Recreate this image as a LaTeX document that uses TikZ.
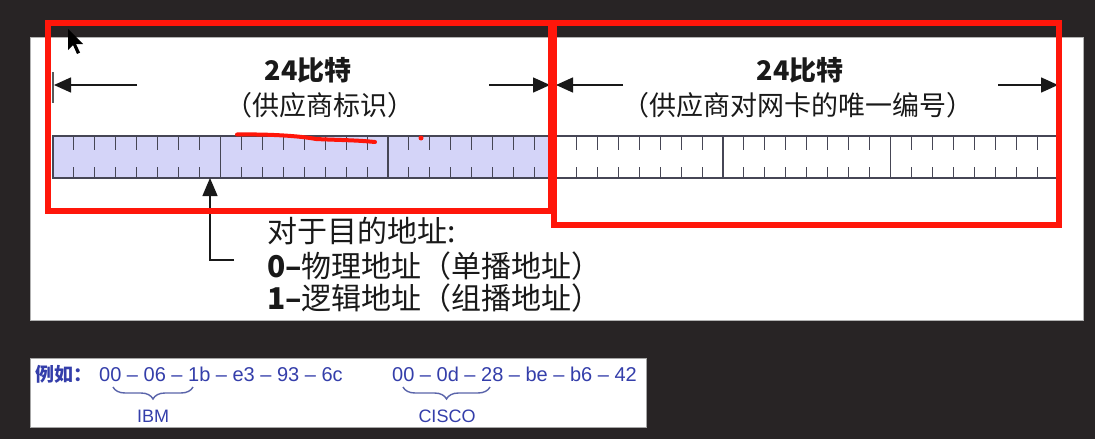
\documentclass[tikz,border=0pt]{standalone}
\usepackage{fontspec}
\setmainfont{Liberation Sans}
\newfontfamily\cjk{Noto Sans CJK SC}
\usetikzlibrary{arrows.meta,decorations.pathreplacing}
\definecolor{bgdark}{RGB}{40,36,37}
\definecolor{lav}{RGB}{212,212,248}
\definecolor{barc}{RGB}{70,70,85}
\definecolor{txt}{RGB}{25,25,25}
\definecolor{exblue}{RGB}{52,62,170}
\definecolor{bracec}{RGB}{90,100,170}
\definecolor{redmk}{RGB}{255,22,10}
\tikzset{
  redbox/.style={draw=redmk, line width=6pt},
  dimarrow/.style={draw=txt, line width=1.5pt, -{Triangle[length=17pt,width=15pt]}},
  upar/.style={draw=txt, line width=1.3pt, -{Triangle[length=18pt,width=15pt]}},
  bigt/.style={font=\cjk\bfseries\fontsize{27}{27}\selectfont, text=txt},
  subt/.style={font=\cjk\fontsize{27}{27}\selectfont, text=txt},
  lowt/.style={font=\cjk\fontsize{30}{30}\selectfont, text=txt, anchor=west, inner sep=0pt},
  hext/.style={font=\fontsize{20}{20}\selectfont, text=exblue, anchor=west, inner sep=0pt},
  vend/.style={font=\fontsize{18}{18}\selectfont, text=exblue, inner sep=0pt},
  brc/.style={draw=bracec, line width=1.4pt, decorate, decoration={brace, mirror, amplitude=12pt}},
  tickln/.style={draw=barc, line width=1.1pt}
}
\begin{document}
\begin{tikzpicture}[x=1pt,y=-1pt]
\fill[bgdark] (0,0) rectangle (1095,439);
\useasboundingbox (0,0) rectangle (1095,439);
% panels
\draw[gray!60, fill=white] (30,37) rectangle (1083,320);
\draw[gray!70, fill=white] (30,358) rectangle (646,427);
% bit bar
\fill[lav] (53,136) rectangle (555,178);
\draw[barc, line width=1.2pt] (53,136) rectangle (1058,178);
\foreach \b in {1,...,5} {
  \pgfmathsetmacro{\xx}{53+167.5*\b}
  \draw[barc, line width=1.2pt] (\xx,136) -- (\xx,178);
}
\foreach \b in {0,...,5} {
  \foreach \i in {1,...,7} {
    \pgfmathsetmacro{\xx}{53+167.5*\b+20.94*\i}
    \draw[tickln] (\xx,136) -- (\xx,150);
    \draw[tickln] (\xx,167) -- (\xx,178);
  }
}
% dimension arrows
\coordinate (la1) at (137,85); \coordinate (la0) at (54,85);
\coordinate (lb1) at (489,85); \coordinate (lb0) at (550,85);
\coordinate (ra1) at (623,85); \coordinate (ra0) at (556,85);
\coordinate (rb1) at (998,85); \coordinate (rb0) at (1058,85);
\draw[gray!70!black, line width=2pt] (53,72) -- (53,103);
\draw[dimarrow] (la1) -- (la0);
\draw[dimarrow] (lb1) -- (lb0);
\draw[dimarrow] (ra1) -- (ra0);
\draw[dimarrow] (rb1) -- (rb0);
\node[bigt] (t1) at (308,70) {24比特};
\node[subt] (s1) at (320,105) {（供应商标识）};
\node[bigt] (t2) at (800,70) {24比特};
\node[subt] (s2) at (798,105) {（供应商对网卡的唯一编号）};
% pointer arrow to first bit
\coordinate (barbot) at (210,178);
\coordinate (elbow) at (210,260);
\coordinate (armend) at (234,260);
\draw[upar] (armend) -- (elbow) -- (barbot);
\node[lowt] (l1) at (267,231) {对于目的地址:};
\node[lowt] (l2) at (267,266) {\textbf{0–}物理地址（单播地址）};
\node[lowt] (l3) at (267,298) {\textbf{1–}逻辑地址（组播地址）};
% example
\node[hext, font=\cjk\bfseries\fontsize{19}{19}\selectfont] (eg) at (35,374) {例如：};
\node[hext] (ibmhex) at (99,374) {00 – 06 – 1b – e3 – 93 – 6c};
\node[hext] (cischex) at (392,374) {00 – 0d – 28 – be – b6 – 42};
\coordinate (b1a) at (113,387); \coordinate (b1b) at (193,387);
\coordinate (b2a) at (403,387); \coordinate (b2b) at (490,387);
\draw[brc] (b1a) -- (b1b);
\draw[brc] (b2a) -- (b2b);
\node[vend] (ibm) at (153,416) {IBM};
\node[vend] (cisco) at (447,416) {CISCO};
% red annotations
\draw[redbox] (48,23) rectangle (551,211);
\draw[redbox] (554,23) rectangle (1059,225);
\draw[redmk, line width=4pt, line cap=round] (237,134.5) .. controls (270,134) and (300,136) .. (316,139) .. controls (335,140) and (355,140) .. (375,142);
\fill[redmk] (421,138) circle (2.5);
% mouse cursor
\fill[black] (68,29) -- (68,50) -- (73,45) -- (77,54) -- (80,52.5) -- (76,44) -- (83,44) -- cycle;
\end{tikzpicture}
\end{document}
